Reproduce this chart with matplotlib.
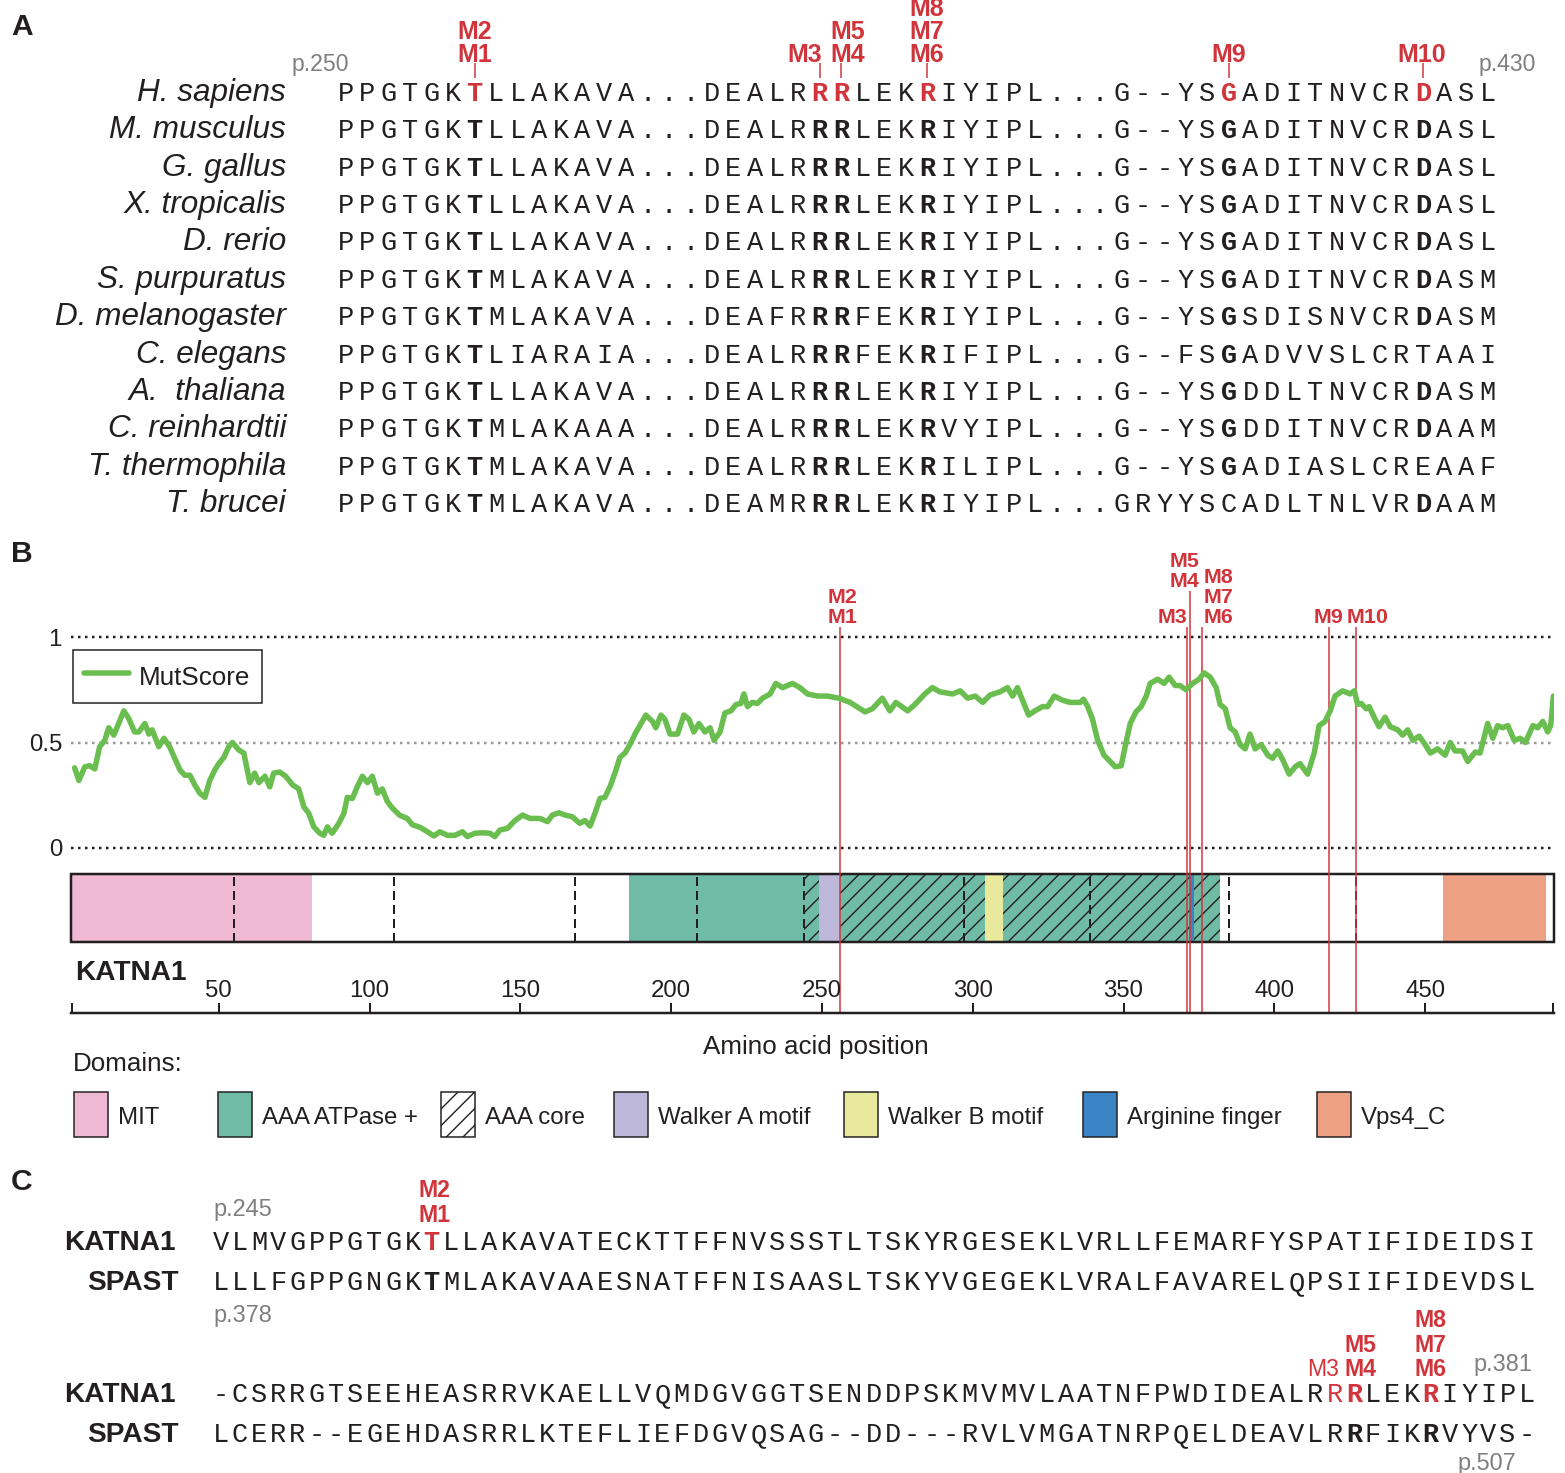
import matplotlib
matplotlib.use("Agg")
import matplotlib.pyplot as plt
from matplotlib.patches import Rectangle
from matplotlib.transforms import blended_transform_factory

# ------------------------------------------------------------------ panel A data
species = [
    "H. sapiens", "M. musculus", "G. gallus", "X. tropicalis", "D. rerio",
    "S. purpuratus", "D. melanogaster", "C. elegans", "A.  thaliana",
    "C. reinhardtii", "T. thermophila", "T. brucei",
]
orthologue_seqs = [
    "PPGTGKTLLAKAVA...DEALRRRLEKRIYIPL...G--YSGADITNVCRDASL",
    "PPGTGKTLLAKAVA...DEALRRRLEKRIYIPL...G--YSGADITNVCRDASL",
    "PPGTGKTLLAKAVA...DEALRRRLEKRIYIPL...G--YSGADITNVCRDASL",
    "PPGTGKTLLAKAVA...DEALRRRLEKRIYIPL...G--YSGADITNVCRDASL",
    "PPGTGKTLLAKAVA...DEALRRRLEKRIYIPL...G--YSGADITNVCRDASL",
    "PPGTGKTMLAKAVA...DEALRRRLEKRIYIPL...G--YSGADITNVCRDASM",
    "PPGTGKTMLAKAVA...DEAFRRRFEKRIYIPL...G--YSGSDISNVCRDASM",
    "PPGTGKTLIARAIA...DEALRRRFEKRIFIPL...G--FSGADVVSLCRTAAI",
    "PPGTGKTLLAKAVA...DEALRRRLEKRIYIPL...G--YSGDDLTNVCRDASM",
    "PPGTGKTMLAKAAA...DEALRRRLEKRVYIPL...G--YSGDDITNVCRDAAM",
    "PPGTGKTMLAKAVA...DEALRRRLEKRILIPL...G--YSGADIASLCREAAF",
    "PPGTGKTMLAKAVA...DEAMRRRLEKRIYIPL...GRYYSCADLTNLVRDAAM",
]
variant_cols_a = [6, 22, 23, 27, 41, 50]
variant_labels_a = [["M1", "M2"], ["M3"], ["M4", "M5"], ["M6", "M7", "M8"], ["M9"], ["M10"]]
range_a = ["p.250", "p.430"]

# ------------------------------------------------------------------ panel B data
mutscore_pos = [
    2.2, 3.6, 5.6, 7.2, 8.9, 10.5, 12.2, 13.5, 15.2, 16.8, 18.5, 20.1, 22.1, 23.5,
    25.5, 26.8, 27.9, 30.1, 31.8, 33.7, 35.4, 37.1, 38.7, 40.4, 42.0, 43.7, 45.4,
    47.0, 48.7, 50.0, 51.7, 53.3, 54.5, 56.6, 58.3, 60.3, 61.9, 63.3, 65.3, 66.9,
    68.2, 70.2, 72.2, 74.4, 76.5, 78.2, 79.8, 81.5, 83.5, 84.8, 86.0, 87.6, 89.8,
    91.5, 92.6, 94.3, 95.9, 97.6, 99.3, 100.9, 102.6, 104.2, 105.9, 107.5, 110.0,
    112.5, 114.2, 116.7, 119.2, 121.3, 123.3, 125.8, 128.3, 130.8, 132.4, 134.9,
    137.4, 139.9, 141.5, 143.2, 145.7, 148.2, 150.7, 153.2, 156.5, 159.0, 160.6,
    162.8, 164.8, 167.2, 169.7, 171.4, 173.1, 174.7, 176.4, 178.0, 179.7, 181.7,
    183.0, 184.7, 186.3, 188.0, 189.6, 191.6, 193.8, 194.9, 196.6, 197.9, 199.6,
    202.1, 204.2, 205.9, 207.5, 209.2, 211.2, 212.9, 214.2, 216.2, 217.8, 219.8,
    221.5, 223.1, 224.1, 225.3, 226.9, 228.6, 230.3, 232.8, 234.7, 236.9, 240.2,
    242.7, 245.2, 248.5, 251.8, 255.6, 259.3, 262.6, 264.3, 266.7, 270.0, 272.5,
    274.5, 278.4, 280.8, 284.1, 286.6, 289.1, 293.3, 295.8, 298.3, 300.8, 303.3,
    305.7, 309.0, 311.5, 313.2, 314.8, 316.5, 318.5, 320.6, 323.1, 324.8, 327.0,
    329.8, 332.3, 335.6, 336.7, 338.1, 339.7, 341.4, 343.5, 345.5, 347.2, 349.2,
    350.5, 352.2, 354.1, 355.8, 357.5, 358.8, 361.3, 363.4, 365.1, 367.1, 368.7,
    370.7, 372.9, 375.0, 376.7, 378.7, 380.7, 382.0, 383.7, 385.3, 387.0, 388.6,
    390.3, 391.9, 393.6, 395.6, 397.8, 399.4, 401.1, 402.7, 404.9, 406.9, 408.5,
    411.0, 413.2, 414.8, 416.8, 418.5, 420.1, 422.6, 425.1, 426.5, 427.6, 428.8,
    430.4, 431.4, 433.4, 434.7, 436.7, 438.4, 440.9, 442.5, 444.2, 445.9, 448.0,
    450.0, 451.7, 454.1, 456.6, 458.3, 459.9, 462.4, 464.1, 466.6, 468.2, 470.7,
    472.4, 474.0, 475.7, 477.4, 479.5, 481.5, 483.2, 485.7, 487.3, 489.0, 490.6,
    491.6, 492.5,
]
mutscore_val = [
    0.38, 0.32, 0.385, 0.39, 0.375, 0.48, 0.51, 0.57, 0.535, 0.59, 0.65, 0.615, 0.55, 0.55,
    0.59, 0.54, 0.56, 0.48, 0.52, 0.48, 0.425, 0.37, 0.345, 0.345, 0.30, 0.26, 0.24,
    0.32, 0.37, 0.40, 0.43, 0.48, 0.50, 0.465, 0.45, 0.31, 0.355, 0.31, 0.34, 0.29,
    0.355, 0.36, 0.34, 0.30, 0.28, 0.195, 0.165, 0.10, 0.07, 0.06, 0.10, 0.07, 0.117,
    0.165, 0.24, 0.235, 0.29, 0.34, 0.31, 0.34, 0.26, 0.28, 0.22, 0.19, 0.155,
    0.14, 0.11, 0.098, 0.077, 0.057, 0.077, 0.06, 0.06, 0.077, 0.054, 0.07,
    0.072, 0.07, 0.054, 0.085, 0.093, 0.13, 0.156, 0.14, 0.14, 0.125, 0.156,
    0.167, 0.156, 0.148, 0.117, 0.13, 0.104, 0.164, 0.235, 0.24, 0.29, 0.37,
    0.43, 0.45, 0.49, 0.54, 0.58, 0.63, 0.60, 0.57, 0.63, 0.61, 0.54,
    0.54, 0.63, 0.61, 0.55, 0.59, 0.55, 0.57, 0.51, 0.55, 0.64, 0.65,
    0.68, 0.685, 0.73, 0.67, 0.69, 0.685, 0.71, 0.73, 0.78, 0.76, 0.78,
    0.76, 0.73, 0.72, 0.72, 0.71, 0.69, 0.66, 0.645, 0.66, 0.71, 0.65,
    0.69, 0.65, 0.68, 0.73, 0.76, 0.74, 0.73, 0.745, 0.71, 0.72, 0.69,
    0.725, 0.74, 0.76, 0.72, 0.76, 0.70, 0.63, 0.65, 0.67, 0.67, 0.72,
    0.70, 0.69, 0.69, 0.705, 0.67, 0.61, 0.51, 0.44, 0.41, 0.385, 0.39,
    0.48, 0.59, 0.645, 0.67, 0.72, 0.78, 0.80, 0.78, 0.81, 0.77, 0.77,
    0.75, 0.78, 0.80, 0.83, 0.81, 0.76, 0.68, 0.66, 0.57, 0.55, 0.49,
    0.47, 0.54, 0.47, 0.49, 0.44, 0.425, 0.46, 0.42, 0.35, 0.385, 0.40,
    0.35, 0.45, 0.58, 0.60, 0.65, 0.72, 0.745, 0.73, 0.745, 0.68, 0.685,
    0.66, 0.67, 0.61, 0.575, 0.62, 0.575, 0.56, 0.535, 0.56, 0.51, 0.53,
    0.49, 0.45, 0.47, 0.44, 0.50, 0.46, 0.46, 0.41, 0.455, 0.45, 0.59,
    0.52, 0.58, 0.57, 0.58, 0.51, 0.52, 0.50, 0.58, 0.57, 0.60, 0.55,
    0.58, 0.72,
]
variant_names = ["M1", "M2", "M3", "M4", "M5", "M6", "M7", "M8", "M9", "M10"]
variant_pos = [256, 256, 371, 372, 372, 376, 376, 376, 418, 427]

domain_names = ["MIT", "AAA ATPase +", "AAA core", "Walker A motif",
                "Walker B motif", "Arginine finger", "Vps4_C"]
domain_start = [1, 186, 244, 249, 304, 372, 456]
domain_end = [81, 382, 382, 256, 310, 373.5, 490]
exon_bounds = [55, 108, 168, 208.5, 244, 297, 339, 385, 427]
position_ticks = [50, 100, 150, 200, 250, 300, 350, 400, 450]
score_ticks = [0, 0.5, 1]
score_ticklabels = ["0", "0.5", "1"]

# ------------------------------------------------------------------ panel C data
katna1_rows = [
    "VLMVGPPGTGKTLLAKAVATECKTTFFNVSSSTLTSKYRGESEKLVRLLFEMARFYSPATIFIDEIDSI",
    "-CSRRGTSEEHEASRRVKAELLVQMDGVGGTSENDDPSKMVMVLAATNFPWDIDEALRRRLEKRIYIPL",
]
spast_rows = [
    "LLLFGPPGNGKTMLAKAVAAESNATFFNISAASLTSKYVGEGEKLVRALFAVARELQPSIIFIDEVDSL",
    "LCERR--EGEHDASRRLKTEFLIEFDGVQSAG--DD---RVLVMGATNRPQELDEAVLRRFIKRVYVS-",
]
katna1_variant_cols = [[11], [58, 59, 63]]
katna1_bold_cols = [[11], [59, 63]]
spast_bold_cols = [[11], [59, 63]]
variant_labels_c = [[["M1", "M2"]], [["M3"], ["M4", "M5"], ["M6", "M7", "M8"]]]

# ------------------------------------------------------------------ style
DPI = 100
W, H = 1565, 1473
PT = 72.0 / DPI            # pixel -> point
SANS = "Liberation Sans"
MONO = "Liberation Mono"
INK = "#231f20"
RED = "#d1343a"
GREY = "#7f7f7f"
GREEN = "#6abe4f"
domain_colors = ["#f0b9d3", "#6fbba6", "none", "#bdb8da", "#e8e99c", "#3a84c6", "#eea085"]
domain_hatch = [None, None, "//", None, None, None, None]

fig = plt.figure(figsize=(W / DPI, H / DPI), dpi=DPI)
fig.patch.set_facecolor("white")

# full-figure canvas in pixel units (y downwards) for the alignment panels
ax0 = fig.add_axes([0, 0, 1, 1])
ax0.set_xlim(0, W)
ax0.set_ylim(H, 0)
ax0.axis("off")


def txt(x, y, s, size, **kw):
    kw.setdefault("color", INK)
    kw.setdefault("family", SANS)
    kw.setdefault("va", "baseline")
    return ax0.text(x, y, s, fontsize=size * PT, **kw)


def residue(x, y, ch, bold=False, color=INK):
    ax0.text(x, y, ch, fontsize=27 * PT, family=MONO, ha="center", va="baseline",
             fontweight="bold" if bold else "normal", color=color)


# panel letters
for letter, yb in (("A", 35), ("B", 562), ("C", 1190)):
    txt(11, yb, letter, 30, fontweight="bold")

# ------------------------------------------------------------------ panel A
xa0, xa_step = 345.5, 21.55
ya0, ya_step = 101.0, 37.36
human = orthologue_seqs[0]
for i, (name, seq) in enumerate(zip(species, orthologue_seqs)):
    yb = ya0 + i * ya_step
    txt(286, yb, name, 31.5, ha="right", style="italic")
    for j, ch in enumerate(seq):
        key = j in variant_cols_a and ch == human[j]
        residue(xa0 + j * xa_step, yb, ch, bold=key,
                color=RED if (i == 0 and key) else INK)

txt(349, 71, range_a[0], 23, ha="right", color=GREY)
txt(1479, 71, range_a[1], 23, ha="left", color=GREY)

label_dx_a = [0, 2.5, 7, -1, 0, -1.5]
label_ha_a = ["center", "right", "center", "center", "center", "center"]
for col, labels, dx, ha in zip(variant_cols_a, variant_labels_a, label_dx_a, label_ha_a):
    xc = xa0 + col * xa_step
    ax0.plot([xc, xc], [63.3, 78.3], color=RED, lw=1.5 * PT, solid_capstyle="butt")
    for k, lab in enumerate(labels):
        txt(xc + dx, 61.7 - 23 * k, lab, 25, ha=ha, color=RED, fontweight="bold")

# ------------------------------------------------------------------ panel B


def fig_box(left, top, right, bottom):
    return [left / W, 1 - bottom / H, (right - left) / W, (bottom - top) / H]


axB = fig.add_axes(fig_box(71, 540, 1554, 1013))
axB.patch.set_visible(False)
axB.set_xlim(1, 492.7)
y_zero_px, y_unit_px = 848.0, 211.0
axB.set_ylim((y_zero_px - 1013) / y_unit_px, (y_zero_px - 540) / y_unit_px)
for s in axB.spines.values():
    s.set_visible(False)
axB.set_xticks([])
axB.set_yticks(score_ticks, score_ticklabels)
axB.tick_params(axis="y", length=0, pad=9 * PT, labelsize=24 * PT, labelcolor=INK)
for lab in axB.get_yticklabels():
    lab.set_family(SANS)


def px_to_score(ypx):
    return (y_zero_px - ypx) / y_unit_px


# score reference lines
axB.axhline(1, color=INK, lw=2.5 * PT, ls=(0, (1, 1.8)), zorder=1)
axB.axhline(0.5, color="#9a9a9a", lw=2.5 * PT, ls=(0, (1, 1.8)), zorder=1)
axB.axhline(0, color=INK, lw=2.5 * PT, ls=(0, (1, 1.8)), zorder=1)

# protein domain bar
bar_lo, bar_hi = px_to_score(942), px_to_score(874)
bar_h = bar_hi - bar_lo
for name, st, en, colr, hat in zip(domain_names, domain_start, domain_end,
                                   domain_colors, domain_hatch):
    if hat:
        axB.broken_barh([(st, en - st)], (bar_lo, bar_h), facecolors="none",
                        edgecolors=INK, linewidth=0, hatch=hat, zorder=2)
    else:
        axB.broken_barh([(st, en - st)], (bar_lo, bar_h), facecolors=colr,
                        edgecolors="none", linewidth=0, zorder=2)
axB.vlines(exon_bounds, bar_lo, bar_hi, colors=INK, lw=2 * PT,
           linestyles=(0, (4.5, 2.5)), zorder=3)
span = blended_transform_factory(axB.transAxes, axB.transData)
axB.add_patch(Rectangle((0, bar_lo), 1, bar_h, transform=span, fill=False,
                        edgecolor=INK, lw=2.5 * PT, zorder=4, clip_on=False))

# variant positions
groups = []
for name, pos in zip(variant_names, variant_pos):
    if groups and groups[-1][0] == pos:
        groups[-1][1].append(name)
    else:
        groups.append((pos, [name]))
label_dx_b = [2, 0, -5, 2, 0, -9]
label_ha_b = ["center", "right", "center", "left", "center", "left"]
label_base_b = [623, 623, 587, 623, 623, 623]
for (pos, names), dx, ha, base in zip(groups, label_dx_b, label_ha_b, label_base_b):
    axB.vlines(pos, axB.get_ylim()[0], px_to_score(base + 4), colors=RED,
               lw=1.5 * PT, zorder=5)
    xpx = axB.transData.transform((pos, 0))[0]
    for k, nm in enumerate(names):
        txt(xpx + dx, base - 20 * k, nm, 21.5, ha=ha, color=RED, fontweight="bold")

# MutScore trace
trace, = axB.plot(mutscore_pos, mutscore_val, color=GREEN, lw=5.5 * PT,
                  solid_joinstyle="round", solid_capstyle="round", zorder=6)
leg = axB.legend([trace], ["MutScore"], loc="upper left",
                 bbox_to_anchor=(73 / W, 1 - 650 / H), bbox_transform=fig.transFigure,
                 borderaxespad=0, fancybox=False, framealpha=1, edgecolor=INK,
                 borderpad=0.42, handlelength=1.75, handletextpad=0.38,
                 handleheight=1.45, prop={"family": SANS, "size": 26 * PT})
leg.get_frame().set_linewidth(1.5 * PT)
for t in leg.get_texts():
    t.set_color(INK)

# amino-acid ruler
axR = fig.add_axes(fig_box(71, 1001, 1554, 1013))
axR.patch.set_visible(False)
axR.set_xlim(axB.get_xlim())
axR.set_ylim(0, 1)
for s in ("top", "left", "right"):
    axR.spines[s].set_visible(False)
axR.spines["bottom"].set_linewidth(2.5 * PT)
axR.spines["bottom"].set_color(INK)
axR.set_yticks([])
axR.set_xticks(position_ticks, [str(t) for t in position_ticks])
axR.set_xticks([axB.get_xlim()[0] + 0.3, axB.get_xlim()[1] - 0.3], minor=True)
axR.tick_params(axis="x", which="both", direction="in", length=10 * PT,
                width=2 * PT, color=INK, bottom=True, top=False,
                labelbottom=False, labeltop=True, pad=-1 * PT,
                labelsize=24 * PT, labelcolor=INK)
for lab in axR.get_xticklabels():
    lab.set_family(SANS)

txt(75, 980, "KATNA1", 28, fontweight="bold")
txt(816, 1054, "Amino acid position", 26, ha="center")
txt(73, 1071, "Domains:", 26)

# domain key
key_left = [74, 218, 441, 614, 844, 1083, 1317]
for name, colr, hat, xl in zip(domain_names, domain_colors, domain_hatch, key_left):
    face = "white" if colr == "none" else colr
    ax0.add_patch(Rectangle((xl, 1092), 34, 45, facecolor=face, edgecolor=INK,
                            lw=1.5 * PT, hatch=hat))
    txt(xl + 44, 1124, name, 24)

# ------------------------------------------------------------------ panel C
xc0, xc_step = 220.5, 19.21
row_base_c = [(1250.5, 1290.0), (1402.0, 1442.0)]
for r in range(2):
    yk, ys = row_base_c[r]
    txt(176, yk, "KATNA1", 28, ha="right", fontweight="bold")
    txt(178.5, ys, "SPAST", 28, ha="right", fontweight="bold")
    for j, ch in enumerate(katna1_rows[r]):
        residue(xc0 + j * xc_step, yk, ch, bold=j in katna1_bold_cols[r],
                color=RED if j in katna1_variant_cols[r] else INK)
    for j, ch in enumerate(spast_rows[r]):
        residue(xc0 + j * xc_step, ys, ch, bold=j in spast_bold_cols[r])

label_dx_c = [[3], [-12, 7, 0]]
label_ha_c = [["center"], ["center", "center", "center"]]
label_base_c = [1222, 1376]
label_step_c = [25, 24.5]
for r in range(2):
    for col, labels, dx, ha in zip(katna1_variant_cols[r], variant_labels_c[r],
                                   label_dx_c[r], label_ha_c[r]):
        xc = xc0 + col * xc_step
        for k, lab in enumerate(labels):
            bold = col in katna1_bold_cols[r]
            txt(xc + dx, label_base_c[r] - label_step_c[r] * k, lab, 23, ha=ha,
                color=RED, fontweight="bold" if bold else "normal")

txt(213, 1216, "p.245", 23.5, color=GREY)
txt(213, 1322, "p.378", 23.5, color=GREY)
txt(1473, 1371, "p.381", 23.5, color=GREY)
txt(1457, 1470, "p.507", 23.5, color=GREY)

fig.savefig("out.png", dpi=DPI, facecolor="white")
